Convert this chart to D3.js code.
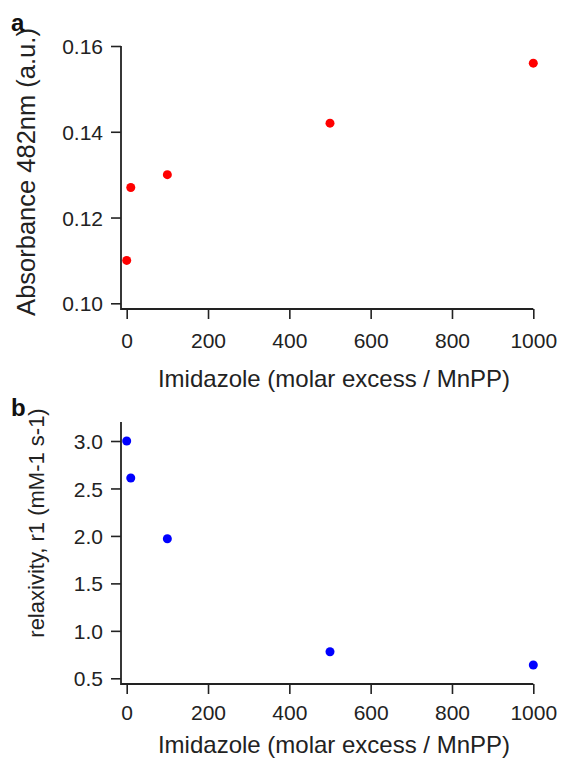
<!DOCTYPE html>
<html>
<head>
<meta charset="utf-8">
<script src="https://cdn.jsdelivr.net/npm/d3@7.9.0/dist/d3.min.js"></script>
<style>
  html, body { margin: 0; padding: 0; background: #fff; }
  svg { display: block; font-family: "Liberation Sans", Arial, sans-serif; }
  .tick text { font-size: 21px; fill: #222; }
  .tick line { stroke: #222; stroke-width: 1.6; }
</style>
</head>
<body>
<svg width="561" height="760"></svg>
<script>
// imidazole molar excess per MnPP
const imidazole = [0, 10, 100, 500, 1000];
const absorbance = [0.110, 0.127, 0.130, 0.142, 0.156];
const relaxivity = [3.0, 2.61, 1.97, 0.78, 0.64];

const xTicks = [0, 200, 400, 600, 800, 1000];
const absTicks = [0.10, 0.12, 0.14, 0.16];
const relTicks = [0.5, 1.0, 1.5, 2.0, 2.5, 3.0];

const xTitle = 'Imidazole (molar excess / MnPP)';

const svg = d3.select('svg');

const panels = [
  {
    letter: 'a', letterY: 31,
    values: absorbance, ticks: absTicks, fmt: d3.format('.2f'),
    yDomain: [0.10, 0.16], yRange: [303.3, 46], axisTop: 46, axisBottom: 309,
    color: '#ff0000', title: 'Absorbance 482nm (a.u.)', titleSize: 25.5, titleX: 26, titleY: 172,
    tickBase: 348, xTitleBase: 387
  },
  {
    letter: 'b', letterY: 416,
    values: relaxivity, ticks: relTicks, fmt: d3.format('.1f'),
    yDomain: [0.5, 3.0], yRange: [678.3, 441], axisTop: 422, axisBottom: 684,
    color: '#0000ff', title: 'relaxivity, r1 (mM-1 s-1)', titleSize: 22, titleX: 36, titleY: 523,
    tickBase: 720, xTitleBase: 753
  }
];

const x = d3.scaleLinear().domain([0, 1000]).range([126.7, 533.3]);
const axisX = 121;

panels.forEach((p) => {
  const y = d3.scaleLinear().domain(p.yDomain).range(p.yRange);
  const g = svg.append('g');

  // axis lines (L-shaped frame)
  g.append('path')
    .attr('d', `M${axisX},${p.axisTop}V${p.axisBottom}H${x(1000)}`)
    .attr('fill', 'none')
    .attr('stroke', '#222')
    .attr('stroke-width', 1.8);

  const yAxis = g.append('g')
    .attr('transform', `translate(${axisX},0)`)
    .call(d3.axisLeft(y).tickValues(p.ticks).tickFormat(p.fmt).tickSize(10).tickPadding(8));
  yAxis.select('.domain').remove();
  yAxis.selectAll('.tick text').attr('dy', '0.36em');

  const xAxis = g.append('g')
    .attr('transform', `translate(0,${p.axisBottom})`)
    .call(d3.axisBottom(x).tickValues(xTicks).tickFormat(d3.format('d')).tickSize(10).tickPadding(0));
  xAxis.select('.domain').remove();
  xAxis.selectAll('.tick text').attr('y', p.tickBase - p.axisBottom).attr('dy', null);

  g.selectAll('circle')
    .data(imidazole.map((d, i) => [d, p.values[i]]))
    .join('circle')
    .attr('cx', (d) => x(d[0]))
    .attr('cy', (d) => y(d[1]))
    .attr('r', 4.5)
    .attr('fill', p.color);

  g.append('text')
    .attr('x', 334)
    .attr('y', p.xTitleBase)
    .attr('text-anchor', 'middle')
    .attr('font-size', 24)
    .attr('fill', '#222')
    .text(xTitle);

  g.append('text')
    .attr('transform', `translate(${p.titleX},${p.titleY}) rotate(-90)`)
    .attr('text-anchor', 'middle')
    .attr('dy', '0.35em')
    .attr('font-size', p.titleSize)
    .attr('fill', '#222')
    .text(p.title);

  g.append('text')
    .attr('x', 11)
    .attr('y', p.letterY)
    .attr('font-size', 24)
    .attr('font-weight', 'bold')
    .attr('fill', '#111')
    .text(p.letter);
});
</script>
</body>
</html>
